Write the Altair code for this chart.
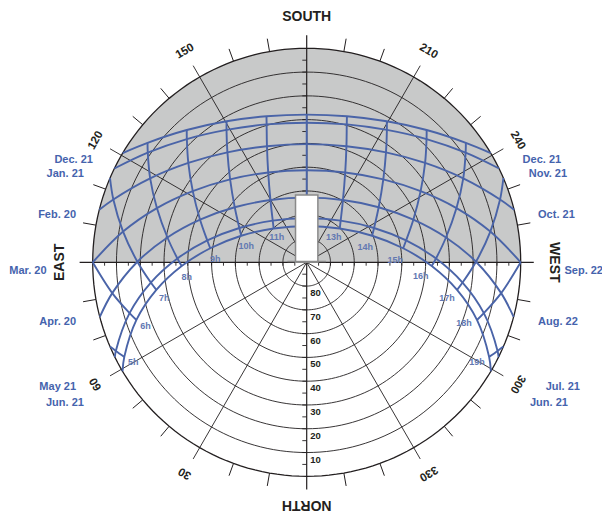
import altair as alt
import pandas as pd

# ---------------- data (read / estimated from the reference) ----------------
date_names = ["Dec. 21", "Jan. 21 / Nov. 21", "Feb. 20 / Oct. 21", "Mar. 20 / Sep. 22",
              "Apr. 20 / Aug. 22", "May 21 / Jul. 21", "Jun. 21"]

# solar hour (first / last = sunrise / sunset), azimuth (deg, N=0 clockwise), altitude (deg)
dec21_hour = [7.36, 8, 9, 10, 11, 12, 13, 14, 15, 16, 16.64]
dec21_az = [120.7, 126.9, 137.8, 150.4, 164.6, 180.0, 195.4, 209.6, 222.2, 233.1, 239.3]
dec21_alt = [0.0, 6.3, 14.9, 21.8, 26.3, 27.9, 26.3, 21.8, 14.9, 6.3, 0.0]

jan21_hour = [7.13, 8, 9, 10, 11, 12, 13, 14, 15, 16, 16.87]
jan21_az = [116.0, 124.6, 135.8, 148.8, 163.8, 180.0, 196.2, 211.2, 224.2, 235.4, 244.0]
jan21_alt = [0.0, 8.8, 17.7, 24.9, 29.6, 31.3, 29.6, 24.9, 17.7, 8.8, 0.0]

feb20_hour = [6.60, 7, 8, 9, 10, 11, 12, 13, 14, 15, 16, 17, 17.40]
feb20_az = [104.2, 108.0, 118.2, 130.0, 144.2, 161.1, 180.0, 198.9, 215.8, 230.0, 241.8, 252.0, 255.8]
feb20_alt = [0.0, 4.5, 15.3, 25.0, 33.0, 38.4, 40.3, 38.4, 33.0, 25.0, 15.3, 4.5, 0.0]

mar20_hour = [6, 7, 8, 9, 10, 11, 12, 13, 14, 15, 16, 17, 18]
mar20_az = [90.0, 99.5, 109.9, 122.0, 137.3, 156.8, 180.0, 203.2, 222.7, 238.0, 250.1, 260.5, 270.0]
mar20_alt = [0.0, 11.7, 23.0, 33.5, 42.5, 48.9, 51.3, 48.9, 42.5, 33.5, 23.0, 11.7, 0.0]

apr20_hour = [5.37, 6, 7, 8, 9, 10, 11, 12, 13, 14, 15, 16, 17, 18, 18.63]
apr20_az = [75.2, 81.0, 90.2, 100.1, 111.8, 127.4, 149.8, 180.0, 210.2, 232.6, 248.2, 259.9, 269.8, 279.0, 284.8]
apr20_alt = [0.0, 7.2, 18.8, 30.5, 41.7, 51.9, 59.7, 62.8, 59.7, 51.9, 41.7, 30.5, 18.8, 7.2, 0.0]

may21_hour = [4.86, 5, 6, 7, 8, 9, 10, 11, 12, 13, 14, 15, 16, 17, 18, 19, 19.14]
may21_az = [63.7, 65.1, 74.0, 82.6, 91.7, 102.4, 117.0, 140.8, 180.0, 219.2, 243.0, 257.6, 268.3,
            277.4, 286.0, 294.9, 296.3]
may21_alt = [0.0, 1.5, 12.5, 23.9, 35.6, 47.2, 58.2, 67.4, 71.5, 67.4, 58.2, 47.2, 35.6, 23.9, 12.5, 1.5, 0.0]

jun21_hour = [4.65, 5, 6, 7, 8, 9, 10, 11, 12, 13, 14, 15, 16, 17, 18, 19, 19.35]
jun21_az = [59.4, 62.6, 71.3, 79.6, 88.3, 98.3, 112.1, 135.7, 180.0, 224.3, 247.9, 261.7, 271.7,
            280.4, 288.7, 297.4, 300.6]
jun21_alt = [0.0, 3.6, 14.4, 25.7, 37.4, 49.0, 60.3, 70.1, 74.7, 70.1, 60.3, 49.0, 37.4, 25.7, 14.4, 3.6, 0.0]

hours_by_date = [dec21_hour, jan21_hour, feb20_hour, mar20_hour, apr20_hour, may21_hour, jun21_hour]
az_by_date = [dec21_az, jan21_az, feb20_az, mar20_az, apr20_az, may21_az, jun21_az]
alt_by_date = [dec21_alt, jan21_alt, feb20_alt, mar20_alt, apr20_alt, may21_alt, jun21_alt]

# where hour lines meet the horizon between two dates
hour_end_hour = [5, 7, 17, 19]
hour_end_az = [66.8, 113.2, 246.8, 293.2]
hour_end_rank = [4.7, 1.5, 1.5, 4.7]

# hour labels (on the June path)
hour_labels = [5, 6, 7, 8, 9, 10, 11, 13, 14, 15, 16, 17, 18, 19]

# altitude rings and azimuth scale
ring_alts = [10, 20, 30, 40, 50, 60, 70, 80]
azimuth_labels = {0: "NORTH", 30: "30", 60: "60", 90: "EAST", 120: "120", 150: "150",
                  180: "SOUTH", 210: "210", 240: "240", 270: "WEST", 300: "300", 330: "330"}

left_dates = ["Dec. 21", "Jan. 21", "Feb. 20", "Mar. 20", "Apr. 20", "May 21", "Jun. 21"]
right_dates = ["Dec. 21", "Nov. 21", "Oct. 21", "Sep. 22", "Aug. 22", "Jul. 21", "Jun. 21"]

# ---------------- layout (positions / styles) ----------------
W, H = 594, 505
PX = 214 / 90.0                     # pixels per degree of zenith distance
XD = [-125.62, 124.19]
YD = [-105.43, 106.95]
SPOKE_R = 95.5
LABEL_R_NUM = 102.4
label_r_card = {0: 102.0, 90: 103.9, 180: 103.3, 270: 103.9}

left_date_x = [-89.9, -93.7, -97.0, -109.4, -97.0, -97.0, -93.7]
left_date_y = [43.0, 37.1, 19.9, -3.5, -25.1, -52.4, -59.0]
right_date_x = [90.8, 93.4, 97.3, 108.4, 97.3, 100.5, 93.9]
right_date_y = [43.0, 37.1, 19.9, -3.7, -25.1, -52.4, -59.3]

hour_label_dx = {5: 9, 6: 9, 7: 8, 8: 5, 9: 5, 10: 5, 11: 3,
                 13: -6, 14: -7, 15: -8, 16: -11, 17: -10, 18: -13, 19: -12}
hour_label_dy = {5: 5, 6: 6, 7: 8.5, 8: 11, 9: 11, 10: 10, 11: 9,
                 13: 9, 14: 11, 15: 12, 16: 10, 17: 8, 18: 3, 19: 5}

obstacle = pd.DataFrame({"x": [-4.7], "x2": [4.7], "y": [0.0], "y2": [28.3]})

INK = "#231F20"
BLUE = "#4A64A8"
DATE_BLUE = "#4563AD"
HOUR_BLUE = "#6278B2"
SHADE = "#C8C9C9"
FONT = "Liberation Sans, Arial, sans-serif"

xs = alt.Scale(domain=XD, nice=False, zero=False)
ys = alt.Scale(domain=YD, nice=False, zero=False)


def X(f="x"):
    return alt.X(f"{f}:Q", scale=xs, axis=None)


def Y(f="y"):
    return alt.Y(f"{f}:Q", scale=ys, axis=None)


def polar(ch):
    return ch.transform_calculate(r="90 - datum.alt").transform_calculate(
        x="-datum.r*sin(datum.az*PI/180)", y="-datum.r*cos(datum.az*PI/180)")


# ---------------- tables ----------------
sun_rows = []
for d, (hrs, azs, als) in enumerate(zip(hours_by_date, az_by_date, alt_by_date)):
    for h, a, e in zip(hrs, azs, als):
        sun_rows.append({"d": d, "date": date_names[d], "hour": h, "az": a, "alt": e, "rank": d})
sun_df = pd.DataFrame(sun_rows)

hour_df = sun_df[sun_df["hour"] % 1 == 0].copy()
ends = pd.DataFrame({"hour": hour_end_hour, "az": hour_end_az, "alt": [0.0] * 4,
                     "rank": hour_end_rank})
hour_df = pd.concat([hour_df[["hour", "az", "alt", "rank"]], ends], ignore_index=True)

jun_df = sun_df[(sun_df["d"] == 6) & (sun_df["hour"].isin(hour_labels))].copy()
jun_df["label"] = jun_df["hour"].astype(int).astype(str) + "h"
jun_df["ox"] = jun_df["hour"].map(hour_label_dx) / PX
jun_df["oy"] = -jun_df["hour"].map(hour_label_dy) / PX

ring_rows = [(90 - a, t) for a in ring_alts for t in range(0, 361, 2)]
ring_df = pd.DataFrame(ring_rows, columns=["r", "t"])
outer_df = pd.DataFrame({"r": [90] * 181, "t": list(range(0, 361, 2))})

spoke_df = pd.DataFrame({"az": [a for a in range(0, 360, 30) if a % 90 != 0]})
card_df = pd.DataFrame({"az": [0, 90, 180, 270]})
tick_df = pd.DataFrame({"az": [a for a in range(0, 360, 10) if a % 30 != 0]})
minor_df = pd.DataFrame({"v": [v for v in range(-85, 90, 5) if v != 0]})

az_df = pd.DataFrame({"az": list(azimuth_labels.keys()), "label": list(azimuth_labels.values())})
az_df["card"] = az_df["az"] % 90 == 0
az_df["rr"] = [label_r_card.get(a, LABEL_R_NUM) for a in az_df["az"]]
az_df["fs"] = az_df["card"].map({True: 14, False: 11.5})
az_df["ang"] = (az_df["az"] + 180) % 360

altlab_df = pd.DataFrame({"alt": ring_alts, "label": [str(a) for a in ring_alts]})

left_df = pd.DataFrame({"label": left_dates, "x": left_date_x, "y": left_date_y})
right_df = pd.DataFrame({"label": right_dates, "x": right_date_x, "y": right_date_y})

# ---------------- layers ----------------
shade = alt.Chart(alt.sequence(-90, 90.01, 0.5, as_="u")).transform_calculate(
    top="sqrt(max(0, 8100 - datum.u*datum.u))", base="0"
).mark_area(color=SHADE, opacity=1).encode(x=X("u"), y=Y("top"), y2=alt.Y2("base:Q"))

rings = alt.Chart(ring_df).transform_calculate(
    x="datum.r*cos(datum.t*PI/180)", y="datum.r*sin(datum.t*PI/180)"
).mark_line(color=INK, strokeWidth=0.9).encode(x=X(), y=Y(), detail="r:N", order="t:Q")

outer = alt.Chart(outer_df).transform_calculate(
    x="datum.r*cos(datum.t*PI/180)", y="datum.r*sin(datum.t*PI/180)"
).mark_line(color=INK, strokeWidth=1.3).encode(x=X(), y=Y(), order="t:Q")


def rule_layer(df, r0, r1, width):
    return alt.Chart(df).transform_calculate(
        x=f"-{r0}*sin(datum.az*PI/180)", y=f"-{r0}*cos(datum.az*PI/180)",
        x2=f"-{r1}*sin(datum.az*PI/180)", y2=f"-{r1}*cos(datum.az*PI/180)"
    ).mark_rule(color=INK, strokeWidth=width).encode(
        x=X(), y=Y(), x2=alt.X2("x2:Q"), y2=alt.Y2("y2:Q"))


spokes = rule_layer(spoke_df, 0, SPOKE_R, 0.9)
cards = rule_layer(card_df, 0, SPOKE_R, 1.2)
ticks = rule_layer(tick_df, 90, SPOKE_R, 1.0)

vticks = alt.Chart(minor_df).transform_calculate(x="0", x2=f"{-4.4 / PX}").mark_rule(
    color=INK, strokeWidth=0.9).encode(x=X(), x2=alt.X2("x2:Q"), y=Y("v"))
hticks = alt.Chart(minor_df).transform_calculate(y="0", y2=f"{-3.4 / PX}").mark_rule(
    color=INK, strokeWidth=0.9).encode(y=Y(), y2=alt.Y2("y2:Q"), x=X("v"))

paths = polar(alt.Chart(sun_df)).mark_line(
    color=BLUE, strokeWidth=1.9, interpolate="catmull-rom"
).encode(x=X(), y=Y(), detail="d:N", order="hour:Q")

hour_lines = polar(alt.Chart(hour_df)).mark_line(
    color=BLUE, strokeWidth=1.9, interpolate="catmull-rom"
).encode(x=X(), y=Y(), detail="hour:N", order="rank:Q")

block = alt.Chart(obstacle).mark_rect(fill="white", stroke="#8A8A8A", strokeWidth=1.5).encode(
    x=X("x"), x2=alt.X2("x2:Q"), y=Y("y"), y2=alt.Y2("y2:Q"))
base = alt.Chart(obstacle).transform_calculate(
    bx="datum.x - 3.4", bx2="datum.x2 + 3.4", by="0.35"
).mark_rule(color="#8A8A8A", strokeWidth=1.5).encode(x=X("bx"), x2=alt.X2("bx2:Q"), y=Y("by"))

hour_text = polar(alt.Chart(jun_df)).transform_calculate(
    lx="datum.x + datum.ox", ly="datum.y + datum.oy"
).mark_text(font=FONT, fontWeight="bold", fontSize=9, color=HOUR_BLUE).encode(
    x=X("lx"), y=Y("ly"), text="label:N")

az_text = alt.Chart(az_df).transform_calculate(
    x="-datum.rr*sin(datum.az*PI/180)", y="-datum.rr*cos(datum.az*PI/180)"
).mark_text(font=FONT, fontWeight="bold", color=INK, baseline="middle", align="center").encode(
    x=X(), y=Y(), text="label:N", size=alt.Size("fs:Q", scale=None, legend=None),
    angle=alt.Angle("ang:Q", scale=None))

alt_text = alt.Chart(altlab_df).transform_calculate(
    x="0", y="datum.alt - 90"
).mark_text(font=FONT, fontWeight="bold", fontSize=9.5, color=INK, align="left",
            baseline="top", dx=3.5, dy=2).encode(x=X(), y=Y(), text="label:N")

left_text = alt.Chart(left_df).mark_text(
    font=FONT, fontWeight="bold", fontSize=11, color=DATE_BLUE, align="right", baseline="middle"
).encode(x=X(), y=Y(), text="label:N")
right_text = alt.Chart(right_df).mark_text(
    font=FONT, fontWeight="bold", fontSize=11, color=DATE_BLUE, align="left", baseline="middle"
).encode(x=X(), y=Y(), text="label:N")

chart = alt.layer(
    shade, rings, outer, spokes, cards, ticks, vticks, hticks,
    paths, hour_lines, block, base,
    hour_text, az_text, alt_text, left_text, right_text
).properties(
    width=W, height=H, padding=0, autosize=alt.AutoSizeParams(type="none")
).configure_view(stroke=None)

chart.save("out.html", embed_options={"renderer": "svg", "actions": False})
